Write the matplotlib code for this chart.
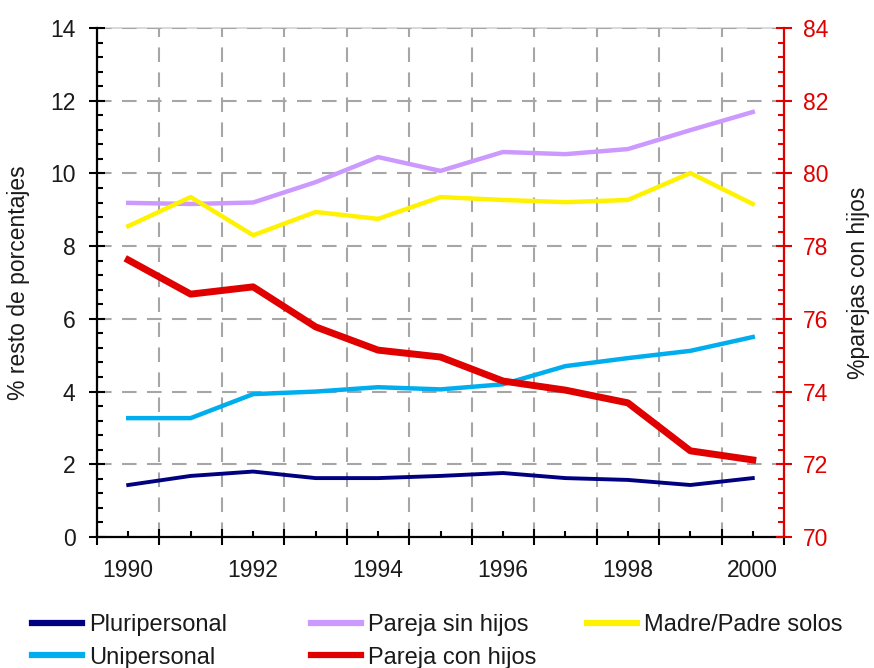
import numpy as np
import matplotlib
matplotlib.use('Agg')
import matplotlib.pyplot as plt
from matplotlib.ticker import MultipleLocator

plt.rcParams['font.family'] = ['Liberation Sans', 'DejaVu Sans']

# data
years = ['1990', '1991', '1992', '1993', '1994', '1995', '1996', '1997', '1998', '1999', '2000']
pluripersonal = [1.43, 1.68, 1.80, 1.62, 1.62, 1.68, 1.76, 1.62, 1.57, 1.43, 1.62]
unipersonal = [3.27, 3.27, 3.93, 4.00, 4.12, 4.06, 4.20, 4.70, 4.92, 5.12, 5.50]
pareja_sin = [9.19, 9.16, 9.20, 9.76, 10.45, 10.07, 10.59, 10.53, 10.67, 11.19, 11.69]
madre_padre = [8.55, 9.35, 8.30, 8.94, 8.75, 9.35, 9.27, 9.21, 9.27, 10.01, 9.16]
pareja_con = [77.62, 76.68, 76.88, 75.78, 75.14, 74.95, 74.29, 74.04, 73.69, 72.37, 72.12]

c_navy = '#000080'
c_cyan = '#00AEEF'
c_lila = '#CC99FF'
c_yell = '#FFF200'
c_red = '#E00000'
txt = '#1a1a1a'

x = np.arange(len(years))

fig = plt.figure(figsize=(8.74, 6.68), dpi=100)
ax = fig.add_axes([97/874, 1-537/668, 687/874, 509/668])
ax2 = ax.twinx()

l_plu, = ax.plot(x, pluripersonal, color=c_navy, lw=2.8)
l_uni, = ax.plot(x, unipersonal, color=c_cyan, lw=3.2)
l_sin, = ax.plot(x, pareja_sin, color=c_lila, lw=3.2)
l_mad, = ax.plot(x, madre_padre, color=c_yell, lw=3.2)
l_con, = ax2.plot(x, pareja_con, color=c_red, lw=5.0)

# axes limits
ax.set_xlim(-0.5, 10.5)
ax.set_ylim(0, 14)
ax2.set_ylim(70, 84)

# x ticks: long at category edges, short + labels at centres
ax.set_xticks(np.arange(-0.5, 11, 1))
ax.set_xticklabels([])
ax.set_xticks(x, [y if i % 2 == 0 else '' for i, y in enumerate(years)], minor=True)
ax.tick_params(axis='x', which='major', direction='inout', length=11, width=1.5, color='black')
ax.tick_params(axis='x', which='minor', direction='in', length=4, width=1.5, color='black',
               pad=16, labelsize=16.5, labelcolor=txt)

# left y
ax.yaxis.set_major_locator(MultipleLocator(2))
ax.yaxis.set_minor_locator(MultipleLocator(0.4))
ax.tick_params(axis='y', which='major', direction='inout', length=11, width=1.5,
               pad=10, labelsize=16.5, labelcolor=txt)
ax.tick_params(axis='y', which='minor', direction='in', length=4, width=1.5)

# right y
ax2.yaxis.set_major_locator(MultipleLocator(2))
ax2.yaxis.set_minor_locator(MultipleLocator(0.4))
ax2.tick_params(axis='y', which='major', direction='inout', length=11, width=1.5,
                color=c_red, pad=8, labelsize=16.5, labelcolor=c_red)
ax2.tick_params(axis='y', which='minor', direction='in', length=4, width=1.5, color=c_red)

# grid
ax.set_axisbelow(True)
ax.grid(True, which='major', color='#a6a6a6', lw=1.5, ls=(0, (7, 5)))

# spines
for s in ['left', 'bottom']:
    ax.spines[s].set_linewidth(1.6)
    ax.spines[s].set_color('black')
ax.spines['right'].set_visible(False)
ax.spines['top'].set_color('#d9d9d9')
ax.spines['top'].set_linewidth(1.4)
ax.spines['top'].set_zorder(0.4)
for s in ['left', 'bottom', 'top']:
    ax2.spines[s].set_visible(False)
ax2.spines['right'].set_color(c_red)
ax2.spines['right'].set_linewidth(1.6)

# labels
ax.set_ylabel('% resto de porcentajes', fontsize=16.5, color=txt)
ax.yaxis.set_label_coords(-0.097, 0.5)
ax2.set_ylabel('%parejas con hijos', fontsize=16.5, color=txt, rotation=90)
ax2.yaxis.set_label_coords(1.092, 0.5)

# legend, three columns of equal pitch
leg_kw = dict(frameon=False, fontsize=17, handlelength=2.1, handletextpad=0.3,
              labelspacing=0.45, borderpad=0, borderaxespad=0, loc='upper left')
for handles, labels, x0 in [
        ([l_plu, l_uni], ['Pluripersonal', 'Unipersonal'], 32),
        ([l_sin, l_con], ['Pareja sin hijos', 'Pareja con hijos'], 311),
        ([l_mad], ['Madre/Padre solos'], 587)]:
    lg = fig.legend(handles, labels, bbox_to_anchor=(x0/874, 1-614/668), **leg_kw)
    for t in lg.get_texts():
        t.set_color(txt)
    for h in lg.legend_handles:
        h.set_linewidth(4.5)

fig.savefig('out.png', dpi=100)
